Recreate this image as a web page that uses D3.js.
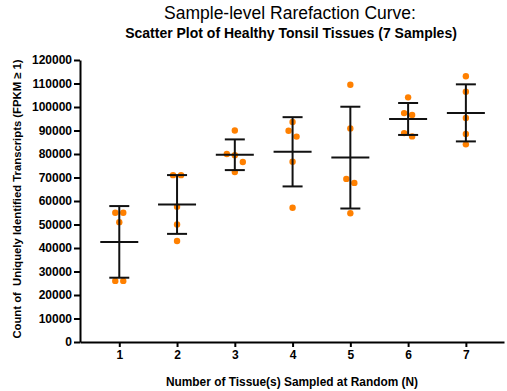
<!DOCTYPE html>
<html>
<head>
<meta charset="utf-8">
<script src="https://cdn.jsdelivr.net/npm/d3@7"></script>
<style>
  body { margin: 0; background: #fff; }
  text { font-family: "Liberation Sans", Arial, sans-serif; }
</style>
</head>
<body>
<div id="chart"></div>
<script>
// Samples drawn (x categories)
const groups = [1, 2, 3, 4, 5, 6, 7];

// transcript counts for each random draw, one array per group
const g1 = [55000, 55000, 51000, 26000, 26000];
const g2 = [71000, 71000, 57600, 50000, 43000];
const g3 = [90000, 80000, 79500, 76600, 72300];
const g4 = [93600, 89900, 87400, 76700, 57100];
const g5 = [109500, 90900, 69400, 67700, 54800];
const g6 = [104100, 97400, 96600, 88900, 87500];
const g7 = [113100, 106500, 95300, 88500, 84100];
const values = [g1, g2, g3, g4, g5, g6, g7];

const yTicks = d3.range(0, 120001, 10000);

const W = 507, H = 391;
const margin = { top: 60, right: 3, bottom: 49, left: 80 };

const svg = d3.select("#chart").append("svg")
  .attr("width", W)
  .attr("height", H);

const x = d3.scaleLinear().domain([0.32, 7.66]).range([margin.left, W - margin.right]);
const y = d3.scaleLinear().domain([0, 120000]).range([H - margin.bottom, margin.top]);

// titles
svg.append("text")
  .attr("x", 290).attr("y", 19)
  .attr("text-anchor", "middle")
  .style("font-size", "17.5px")
  .text("Sample-level Rarefaction Curve:");

svg.append("text")
  .attr("x", 291).attr("y", 38)
  .attr("text-anchor", "middle")
  .style("font-size", "14px").style("font-weight", "bold")
  .text("Scatter Plot of Healthy Tonsil Tissues (7 Samples)");

// axes
const yAxis = svg.append("g")
  .attr("transform", "translate(" + margin.left + ",0)")
  .call(d3.axisLeft(y).tickValues(yTicks).tickFormat(d3.format("d")).tickSize(6).tickSizeOuter(0));

const xAxis = svg.append("g")
  .attr("transform", "translate(0," + (H - margin.bottom) + ")")
  .call(d3.axisBottom(x).tickValues(groups).tickFormat(d3.format("d")).tickSize(5).tickSizeOuter(0));

[xAxis, yAxis].forEach(a => {
  a.select(".domain").attr("stroke", "#000").attr("stroke-width", 2);
  a.selectAll(".tick line").attr("stroke", "#000").attr("stroke-width", 2);
  a.selectAll(".tick text")
    .attr("fill", "#000")
    .style("font-size", "12px")
    .style("font-weight", "bold")
    .style("font-family", "'Liberation Sans', Arial, sans-serif");
});
yAxis.selectAll(".tick text").attr("x", -8);

svg.append("text")
  .attr("x", 292).attr("y", 386)
  .attr("text-anchor", "middle")
  .style("font-size", "11.9px").style("font-weight", "bold")
  .text("Number of Tissue(s) Sampled at Random (N)");

svg.append("text")
  .attr("transform", "translate(21,199) rotate(-90)")
  .attr("text-anchor", "middle")
  .style("font-size", "11.3px").style("font-weight", "bold")
  .style("white-space", "pre")
  .text("Count of  Uniquely Identified Transcripts (FPKM \u2265 1)");

// spread points that overlap vertically into rows
function spread(vals) {
  const sorted = vals.map(v => ({ v: v, py: y(v) })).sort((a, b) => a.py - b.py);
  const rows = [];
  sorted.forEach(p => {
    const last = rows[rows.length - 1];
    if (last && p.py - last[last.length - 1].py < 7) last.push(p);
    else rows.push([p]);
  });
  rows.forEach(r => r.forEach((p, i) => { p.dx = (i - (r.length - 1) / 2) * 8; }));
  return sorted;
}

const stats = values.map((vals, i) => ({
  n: groups[i],
  mean: d3.mean(vals),
  sd: d3.deviation(vals),
  pts: spread(vals)
}));

const grp = svg.selectAll(".grp").data(stats).enter().append("g").attr("class", "grp");

// points
grp.selectAll("circle")
  .data(d => d.pts.map(p => ({ n: d.n, v: p.v, dx: p.dx })))
  .enter().append("circle")
  .attr("cx", d => x(d.n) + d.dx)
  .attr("cy", d => y(d.v))
  .attr("r", 3.2)
  .attr("fill", "#ff8000");

// mean +/- SD bars
const ink = "#111";
grp.append("line")
  .attr("x1", d => x(d.n)).attr("x2", d => x(d.n))
  .attr("y1", d => y(d.mean + d.sd)).attr("y2", d => y(d.mean - d.sd))
  .attr("stroke", ink).attr("stroke-width", 2);
grp.append("line")
  .attr("x1", d => x(d.n) - 19).attr("x2", d => x(d.n) + 19)
  .attr("y1", d => y(d.mean)).attr("y2", d => y(d.mean))
  .attr("stroke", ink).attr("stroke-width", 2);
[1, -1].forEach(s => {
  grp.append("line")
    .attr("x1", d => x(d.n) - 10).attr("x2", d => x(d.n) + 10)
    .attr("y1", d => y(d.mean + s * d.sd)).attr("y2", d => y(d.mean + s * d.sd))
    .attr("stroke", ink).attr("stroke-width", 2);
});
</script>
</body>
</html>
